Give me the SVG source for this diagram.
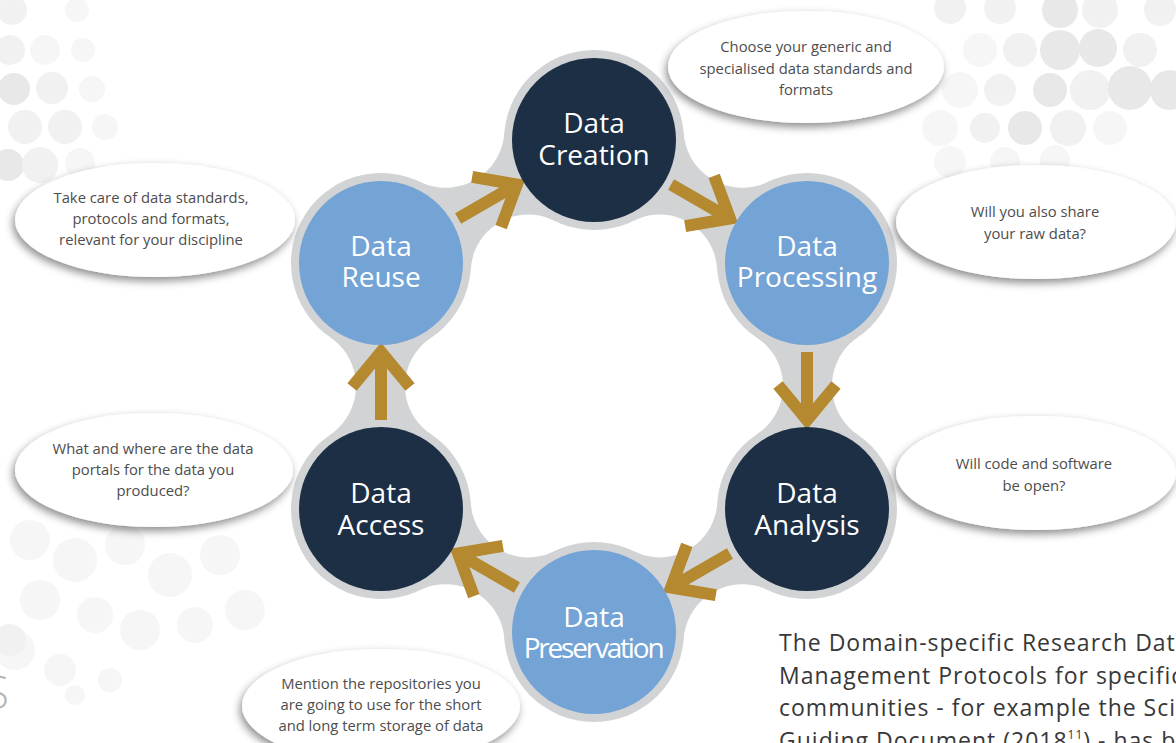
<svg xmlns="http://www.w3.org/2000/svg" width="1176" height="743" viewBox="0 0 1176 743">
<style>
.lbl{font-family:"Open Sans","Liberation Sans",sans-serif;font-size:28px;fill:#ffffff;text-anchor:middle}
.btext{font-family:"Open Sans","Liberation Sans",sans-serif;font-size:14.8px;fill:#4d4d4d;text-anchor:middle}
.bubble{fill:#ffffff;filter:url(#bshadow)}
.dark{fill:#1c2f45}
.light{fill:#74a4d6}
.arrow{fill:none;stroke:#b4892f;stroke-width:12;stroke-linejoin:miter}
.d1{fill:#f1f1f1}
.d2{fill:#e8e8e8}
.d3{fill:#f6f6f6}
.para{font-family:"Open Sans","Liberation Sans",sans-serif;font-size:23px;letter-spacing:1px;fill:#383838}
</style>
<defs>
<filter id="bshadow" x="-20%" y="-30%" width="140%" height="170%">
<feDropShadow dx="-2" dy="4" stdDeviation="4" flood-color="#000" flood-opacity="0.45"/>
</filter>
<filter id="rshadow" x="-10%" y="-10%" width="120%" height="120%">
<feDropShadow dx="0" dy="2" stdDeviation="3" flood-color="#000" flood-opacity="0.18"/>
</filter>
<mask id="ringMask" maskUnits="userSpaceOnUse" x="0" y="0" width="1176" height="743">
<rect x="0" y="0" width="1176" height="743" fill="#000"/>
<polygon fill="#fff" points="683.7,133.1 768.1,181.8 857.9,337.3 857.9,434.7 768.1,590.2 683.7,638.9 504.3,638.9 419.9,590.2 330.1,434.7 330.1,337.3 419.9,181.8 504.3,133.1"/>
<g fill="#000">
<circle cx="742.5" cy="128.8" r="59"/>
<circle cx="891" cy="386" r="59"/>
<circle cx="742.5" cy="643.2" r="59"/>
<circle cx="445.5" cy="643.2" r="59"/>
<circle cx="297" cy="386" r="59"/>
<circle cx="445.5" cy="128.8" r="59"/>
<circle cx="594" cy="386" r="170"/>
<circle cx="659.7" cy="272.2" r="57.6"/>
<circle cx="725.4" cy="386" r="57.6"/>
<circle cx="659.7" cy="499.8" r="57.6"/>
<circle cx="528.3" cy="499.8" r="57.6"/>
<circle cx="462.6" cy="386" r="57.6"/>
<circle cx="528.3" cy="272.2" r="57.6"/>
</g>
<g fill="#fff">
<circle cx="594" cy="140" r="90"/>
<circle cx="807" cy="263" r="90"/>
<circle cx="807" cy="509" r="90"/>
<circle cx="594" cy="632" r="90"/>
<circle cx="381" cy="509" r="90"/>
<circle cx="381" cy="263" r="90"/>
</g>
</mask>
</defs>

<rect x="0" y="0" width="1176" height="743" fill="#ffffff"/>

<g id="background-dots">
<circle class="d1" cx="12" cy="10" r="15"/>
<circle class="d3" cx="77" cy="10" r="12"/>
<circle class="d1" cx="10" cy="50" r="15"/>
<circle class="d3" cx="45" cy="50" r="15"/>
<circle class="d3" cx="83" cy="50" r="12"/>
<circle class="d2" cx="14" cy="89" r="16"/>
<circle class="d1" cx="52" cy="88" r="16"/>
<circle class="d3" cx="92" cy="89" r="13"/>
<circle class="d1" cx="25" cy="127" r="17"/>
<circle class="d1" cx="65" cy="127" r="17"/>
<circle class="d3" cx="105" cy="127" r="13"/>
<circle class="d2" cx="8" cy="165" r="16"/>
<circle class="d1" cx="40" cy="165" r="18"/>
<circle class="d3" cx="80" cy="163" r="15"/>
<circle class="d1" cx="950" cy="8" r="16"/>
<circle class="d1" cx="1000" cy="8" r="16"/>
<circle class="d2" cx="1060" cy="10" r="18"/>
<circle class="d1" cx="1100" cy="10" r="18"/>
<circle class="d1" cx="1160" cy="10" r="16"/>
<circle class="d3" cx="980" cy="50" r="17"/>
<circle class="d1" cx="1020" cy="50" r="17"/>
<circle class="d2" cx="1060" cy="50" r="20"/>
<circle class="d2" cx="1098" cy="48" r="19"/>
<circle class="d1" cx="1140" cy="50" r="17"/>
<circle class="d3" cx="960" cy="90" r="18"/>
<circle class="d1" cx="1000" cy="90" r="16"/>
<circle class="d2" cx="1050" cy="90" r="17"/>
<circle class="d1" cx="1090" cy="90" r="20"/>
<circle class="d2" cx="1130" cy="88" r="22"/>
<circle class="d2" cx="1170" cy="90" r="20"/>
<circle class="d3" cx="940" cy="128" r="18"/>
<circle class="d1" cx="985" cy="128" r="15"/>
<circle class="d2" cx="1025" cy="128" r="17"/>
<circle class="d1" cx="1068" cy="128" r="18"/>
<circle class="d3" cx="1110" cy="128" r="17"/>
<circle class="d3" cx="950" cy="162" r="16"/>
<circle class="d3" cx="1005" cy="162" r="15"/>
<circle class="d3" cx="1055" cy="160" r="15"/>
<circle class="d3" cx="30" cy="540" r="20"/>
<circle class="d3" cx="75" cy="560" r="22"/>
<circle class="d3" cx="125" cy="545" r="20"/>
<circle class="d3" cx="170" cy="575" r="22"/>
<circle class="d3" cx="220" cy="555" r="20"/>
<circle class="d3" cx="40" cy="600" r="20"/>
<circle class="d3" cx="95" cy="615" r="18"/>
<circle class="d3" cx="140" cy="630" r="20"/>
<circle class="d3" cx="195" cy="625" r="18"/>
<circle class="d3" cx="245" cy="610" r="20"/>
<circle class="d3" cx="15" cy="650" r="20"/>
<circle class="d1" cx="10" cy="640" r="16"/>
<circle class="d3" cx="60" cy="670" r="16"/>
<circle class="d3" cx="110" cy="680" r="12"/>
<circle class="d3" cx="75" cy="695" r="10"/>
</g>

<g id="ring">
<rect x="0" y="0" width="1176" height="743" fill="#d1d3d5" mask="url(#ringMask)" filter="url(#rshadow)"/>
</g>

<g id="connectors">
<path class="arrow" transform="translate(487.5,201.5) rotate(-30)" d="M-34 0H32M-1 -29L34 0L-1 29"/>
<path class="arrow" transform="translate(700.5,201.5) rotate(30)" d="M-34 0H32M-1 -29L34 0L-1 29"/>
<path class="arrow" transform="translate(807,386) rotate(90)" d="M-34 0H32M-1 -29L34 0L-1 29"/>
<path class="arrow" transform="translate(700.5,570.5) rotate(150)" d="M-34 0H32M-1 -29L34 0L-1 29"/>
<path class="arrow" transform="translate(487.5,570.5) rotate(210)" d="M-34 0H32M-1 -29L34 0L-1 29"/>
<path class="arrow" transform="translate(381,386) rotate(-90)" d="M-34 0H32M-1 -29L34 0L-1 29"/>
</g>

<g id="node-creation">
<circle class="dark" cx="594" cy="140" r="82"/>
<text class="lbl" x="594" y="133">Data</text>
<text class="lbl" x="594" y="165">Creation</text>
</g>
<g id="node-processing">
<circle class="light" cx="807" cy="263" r="82"/>
<text class="lbl" x="807" y="256">Data</text>
<text class="lbl" x="807" y="287">Processing</text>
</g>
<g id="node-analysis">
<circle class="dark" cx="807" cy="509" r="82"/>
<text class="lbl" x="807" y="503">Data</text>
<text class="lbl" x="807" y="535">Analysis</text>
</g>
<g id="node-preservation">
<circle class="light" cx="594" cy="632" r="82"/>
<text class="lbl" x="594" y="627">Data</text>
<text class="lbl" x="593" y="658" letter-spacing="-2.2">Preservation</text>
</g>
<g id="node-access">
<circle class="dark" cx="381" cy="509" r="82"/>
<text class="lbl" x="381" y="503">Data</text>
<text class="lbl" x="381" y="535">Access</text>
</g>
<g id="node-reuse">
<circle class="light" cx="381" cy="263" r="82"/>
<text class="lbl" x="381" y="256">Data</text>
<text class="lbl" x="381" y="287">Reuse</text>
</g>

<g id="note-creation">
<ellipse class="bubble" cx="806" cy="67" rx="138" ry="56"/>
<text class="btext" x="806" y="52">Choose your generic and</text>
<text class="btext" x="806" y="74">specialised data standards and</text>
<text class="btext" x="806" y="95">formats</text>
</g>
<g id="note-processing">
<ellipse class="bubble" cx="1036" cy="222" rx="140" ry="57"/>
<text class="btext" x="1035" y="217">Will you also share</text>
<text class="btext" x="1035" y="239">your raw data?</text>
</g>
<g id="note-analysis">
<ellipse class="bubble" cx="1036" cy="473" rx="140" ry="57"/>
<text class="btext" x="1034" y="469">Will code and software</text>
<text class="btext" x="1034" y="491">be open?</text>
</g>
<g id="note-reuse">
<ellipse class="bubble" cx="155" cy="220" rx="140" ry="57"/>
<text class="btext" x="151" y="203">Take care of data standards,</text>
<text class="btext" x="151" y="224">protocols and formats,</text>
<text class="btext" x="151" y="245">relevant for your discipline</text>
</g>
<g id="note-access">
<ellipse class="bubble" cx="154" cy="470" rx="139" ry="57"/>
<text class="btext" x="153" y="454">What and where are the data</text>
<text class="btext" x="153" y="475">portals for the data you</text>
<text class="btext" x="153" y="496">produced?</text>
</g>
<g id="note-preservation">
<ellipse class="bubble" cx="381" cy="706" rx="139" ry="57"/>
<text class="btext" x="381" y="689">Mention the repositories you</text>
<text class="btext" x="381" y="710">are going to use for the short</text>
<text class="btext" x="381" y="731">and long term storage of data</text>
</g>

<g id="paragraph">
<text class="para" x="779" y="651">The Domain-specific Research Data</text>
<text class="para" x="779" y="684">Management Protocols for specific</text>
<text class="para" x="779" y="716">communities - for example the Science</text>
<text class="para" x="779" y="749">Guiding Document (2018<tspan font-size="12" dy="-10">11</tspan><tspan dy="10">) - has been</tspan></text>
</g>

<text x="-16" y="709" font-family="Open Sans, Liberation Sans, sans-serif" font-size="46" font-weight="300" fill="#b8b8b8">S</text>
</svg>
